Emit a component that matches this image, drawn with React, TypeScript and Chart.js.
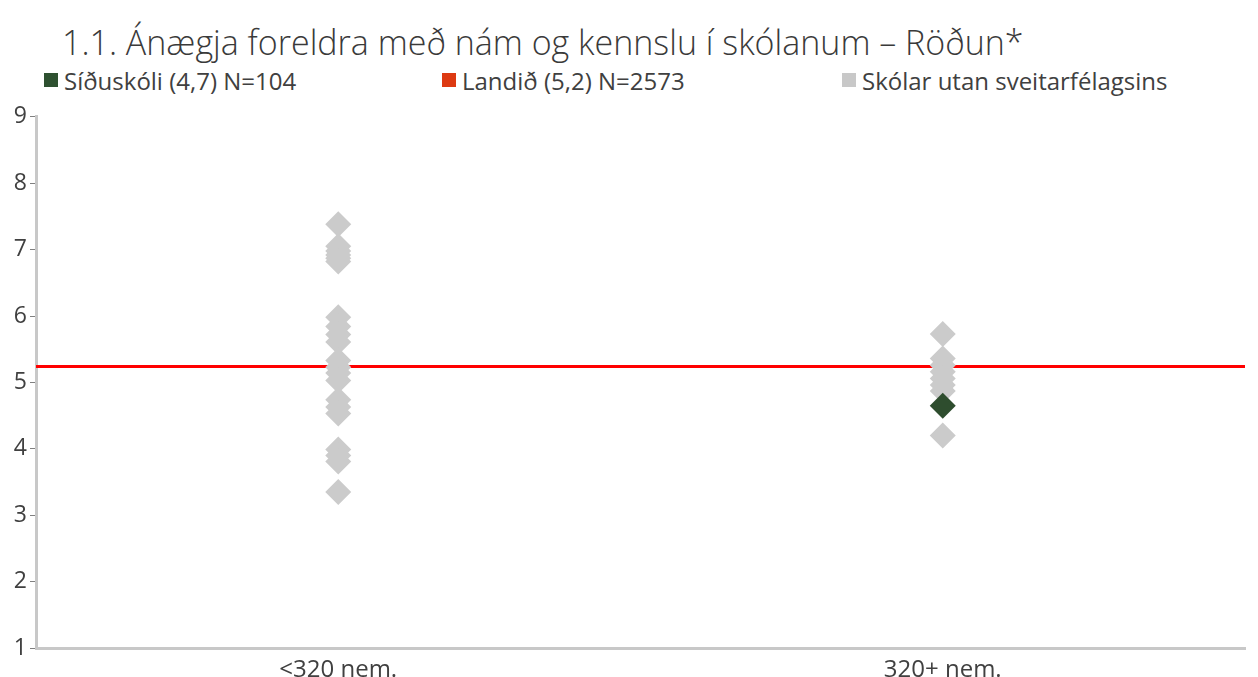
import React, { useEffect, useRef } from "react";
import { Chart, registerables } from "chart.js";

Chart.register(...registerables);

const TITLE = "1.1. Ánægja foreldra með nám og kennslu í skólanum – Röðun*";
const categories = ["<320 nem.", "320+ nem."];
const legendLabels = [
  "Síðuskóli (4,7) N=104",
  "Landið (5,2) N=2573",
  "Skólar utan sveitarfélagsins",
];
const legendColors = ["#2E5130", "#DD3A12", "#C8C8C8"];

const smallSchools = [
  7.38, 7.05, 6.98, 6.92, 6.87, 6.82,
  5.98, 5.84, 5.72, 5.61,
  5.33, 5.23, 5.14, 5.03,
  4.74, 4.63, 4.53,
  3.99, 3.9, 3.81,
  3.35,
];
const largeSchools = [5.73, 5.36, 5.26, 5.16, 5.06, 4.96, 4.87, 4.2];
const sidaskoliCategory = "320+ nem.";
const sidaskoliValue = [4.65];
const nationalAverage = 5.24;
const yTicks = [1, 2, 3, 4, 5, 6, 7, 8, 9];

const FONT = "'Open Sans', sans-serif";

export default function App() {
  const ref = useRef<HTMLCanvasElement | null>(null);

  useEffect(() => {
    if (!ref.current) return;
    const chart = new Chart(ref.current, {
      type: "line",
      data: {
        labels: categories,
        datasets: [
          {
            label: legendLabels[0],
            data: sidaskoliValue.map((v) => ({ x: sidaskoliCategory, y: v })) as any,
            showLine: false,
            pointStyle: "rectRot",
            pointRadius: 13,
            pointHoverRadius: 13,
            pointBackgroundColor: "#2E4D2E",
            pointBorderWidth: 0,
            borderColor: "#2E4D2E",
            backgroundColor: "#2E4D2E",
          },
          {
            label: legendLabels[2],
            data: [
              ...smallSchools.map((v) => ({ x: categories[0], y: v })),
              ...largeSchools.map((v) => ({ x: categories[1], y: v })),
            ] as any,
            showLine: false,
            pointStyle: "rectRot",
            pointRadius: 13,
            pointHoverRadius: 13,
            pointBackgroundColor: "#CBCBCB",
            pointBorderWidth: 0,
            borderColor: "#CBCBCB",
            backgroundColor: "#CBCBCB",
          },
          {
            label: legendLabels[1],
            data: [
              { x: 0, y: nationalAverage },
              { x: 1, y: nationalAverage },
            ] as any,
            xAxisID: "x2",
            borderColor: "#FF0000",
            borderWidth: 3,
            pointRadius: 0,
            pointHoverRadius: 0,
            fill: false,
          },
        ],
      },
      options: {
        animation: false,
        responsive: true,
        maintainAspectRatio: false,
        layout: { padding: { top: 16, right: 6, left: 0, bottom: 0 } },
        plugins: {
          legend: { display: false },
          title: { display: false },
          tooltip: { enabled: false },
        },
        scales: {
          x: {
            type: "category",
            offset: true,
            grid: { display: false },
            border: { display: true, color: "#C8C8C8", width: 3 },
            ticks: {
              color: "#404040",
              font: { family: FONT, size: 24 },
              padding: 0,
            },
            afterFit: (s: any) => {
              s.height = 29;
            },
          },
          x2: {
            type: "linear",
            min: 0,
            max: 1,
            display: false,
          },
          y: {
            min: 1,
            max: 9,
            afterBuildTicks: (s: any) => {
              s.ticks = yTicks.map((v) => ({ value: v }));
            },
            grid: {
              drawOnChartArea: false,
              drawTicks: true,
              tickLength: 6,
              color: "#808080",
              lineWidth: 1,
            },
            border: { display: true, color: "#C8C8C8", width: 3 },
            ticks: {
              color: "#404040",
              font: { family: FONT, size: 23 },
              padding: 3,
            },
            afterFit: (s: any) => {
              s.width = 36;
            },
          },
        },
      },
    });
    return () => chart.destroy();
  }, []);

  return (
    <div
      style={{
        position: "fixed",
        left: 0,
        top: 0,
        width: 1258,
        height: 677,
        background: "#fff",
        fontFamily: FONT,
        overflow: "hidden",
      }}
    >
      <div
        style={{
          position: "absolute",
          left: 62,
          top: 21,
          fontSize: 34,
          fontWeight: 300,
          color: "#3A3A3A",
          whiteSpace: "nowrap",
          lineHeight: "42px",
        }}
      >
        {TITLE}
      </div>
      {legendLabels.map((l, i) => (
        <div
          key={l}
          style={{
            position: "absolute",
            left: [44, 442, 842][i],
            top: 65,
            height: 30,
            display: "flex",
            alignItems: "center",
            fontSize: 24,
            color: "#404040",
            whiteSpace: "nowrap",
          }}
        >
          <span
            style={{
              display: "inline-block",
              width: 14,
              height: 14,
              background: legendColors[i],
              marginRight: 6,
            }}
          />
          {l}
        </div>
      ))}
      <div
        style={{
          position: "absolute",
          left: 0,
          top: 100,
          width: 1258,
          height: 577,
        }}
      >
        <canvas ref={ref} />
      </div>
    </div>
  );
}
